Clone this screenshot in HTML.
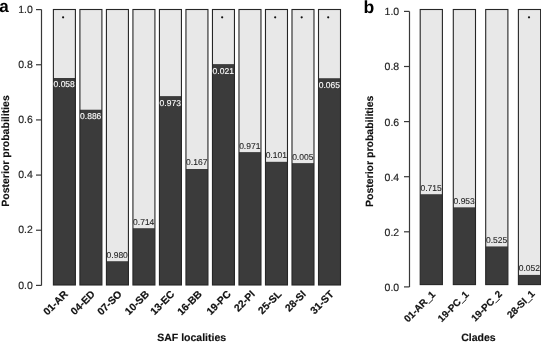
<!DOCTYPE html>
<html><head><meta charset="utf-8"><style>
html,body{margin:0;padding:0;background:#fff;width:541px;height:343px;overflow:hidden}
svg{display:block;will-change:transform}
text{font-family:"Liberation Sans",sans-serif;text-rendering:geometricPrecision}
.v{font-size:8.5px;text-anchor:middle;stroke-width:0.08px}
.t{font-size:10.5px;text-anchor:end;fill:#222;stroke:#222;stroke-width:0.15px}
.xl{font-size:10.3px;font-weight:bold;text-anchor:end;fill:#111;stroke:#111;stroke-width:0.2px}
.ti{font-size:10.5px;font-weight:bold;fill:#111;stroke:#111;stroke-width:0.15px}
.pn{font-size:17px;font-weight:bold;fill:#000}
</style></head><body>
<svg width="541" height="343" viewBox="0 0 541 343">
<rect x="53.4" y="9.5" width="22" height="68.5" fill="#e8e8e8"/>
<rect x="53.4" y="78" width="22" height="207" fill="#3b3b3b"/>
<rect x="53.4" y="9.5" width="22" height="275.5" fill="none" stroke="#262626" stroke-width="1.1"/>
<text x="64.2" y="87.4" class="v" fill="#fff" stroke="#fff" style="stroke-width:0.12px">0.058</text>
<circle cx="63.1" cy="17.3" r="1.1" fill="#111"/>
<text class="xl" transform="translate(68.5,294.8) rotate(-45)">01-AR</text>
<rect x="79.91" y="9.5" width="22" height="100.2" fill="#e8e8e8"/>
<rect x="79.91" y="109.7" width="22" height="175.3" fill="#3b3b3b"/>
<rect x="79.91" y="9.5" width="22" height="275.5" fill="none" stroke="#262626" stroke-width="1.1"/>
<text x="90.71" y="119.1" class="v" fill="#fff" stroke="#fff" style="stroke-width:0.12px">0.886</text>
<text class="xl" transform="translate(95.51,294.8) rotate(-45)">04-ED</text>
<rect x="106.42" y="9.5" width="22" height="251.7" fill="#e8e8e8"/>
<rect x="106.42" y="261.2" width="22" height="23.8" fill="#3b3b3b"/>
<rect x="106.42" y="9.5" width="22" height="275.5" fill="none" stroke="#262626" stroke-width="1.1"/>
<text x="117.22" y="257.6" class="v" fill="#222" stroke="#222">0.980</text>
<text class="xl" transform="translate(122.52,294.8) rotate(-45)">07-SO</text>
<rect x="132.93" y="9.5" width="22" height="218.7" fill="#e8e8e8"/>
<rect x="132.93" y="228.2" width="22" height="56.8" fill="#3b3b3b"/>
<rect x="132.93" y="9.5" width="22" height="275.5" fill="none" stroke="#262626" stroke-width="1.1"/>
<text x="143.73" y="224.6" class="v" fill="#222" stroke="#222">0.714</text>
<text class="xl" transform="translate(149.73,294.8) rotate(-45)">10-SB</text>
<rect x="159.44" y="9.5" width="22" height="86.6" fill="#e8e8e8"/>
<rect x="159.44" y="96.1" width="22" height="188.9" fill="#3b3b3b"/>
<rect x="159.44" y="9.5" width="22" height="275.5" fill="none" stroke="#262626" stroke-width="1.1"/>
<text x="170.24" y="105.5" class="v" fill="#fff" stroke="#fff" style="stroke-width:0.12px">0.973</text>
<text class="xl" transform="translate(175.04,294.8) rotate(-45)">13-EC</text>
<rect x="185.95" y="9.5" width="22" height="159.5" fill="#e8e8e8"/>
<rect x="185.95" y="169" width="22" height="116" fill="#3b3b3b"/>
<rect x="185.95" y="9.5" width="22" height="275.5" fill="none" stroke="#262626" stroke-width="1.1"/>
<text x="196.75" y="165.4" class="v" fill="#222" stroke="#222">0.167</text>
<text class="xl" transform="translate(202.55,294.8) rotate(-45)">16-BB</text>
<rect x="212.46" y="9.5" width="22" height="54.6" fill="#e8e8e8"/>
<rect x="212.46" y="64.1" width="22" height="220.9" fill="#3b3b3b"/>
<rect x="212.46" y="9.5" width="22" height="275.5" fill="none" stroke="#262626" stroke-width="1.1"/>
<text x="223.26" y="73.5" class="v" fill="#fff" stroke="#fff" style="stroke-width:0.12px">0.021</text>
<circle cx="222.16" cy="17.3" r="1.1" fill="#111"/>
<text class="xl" transform="translate(231.46,294.8) rotate(-45)">19-PC</text>
<rect x="238.97" y="9.5" width="22" height="142.6" fill="#e8e8e8"/>
<rect x="238.97" y="152.1" width="22" height="132.9" fill="#3b3b3b"/>
<rect x="238.97" y="9.5" width="22" height="275.5" fill="none" stroke="#262626" stroke-width="1.1"/>
<text x="249.77" y="148.5" class="v" fill="#222" stroke="#222">0.971</text>
<text class="xl" transform="translate(255.57,294.8) rotate(-45)">22-PI</text>
<rect x="265.48" y="9.5" width="22" height="152.3" fill="#e8e8e8"/>
<rect x="265.48" y="161.8" width="22" height="123.2" fill="#3b3b3b"/>
<rect x="265.48" y="9.5" width="22" height="275.5" fill="none" stroke="#262626" stroke-width="1.1"/>
<text x="276.28" y="158.2" class="v" fill="#222" stroke="#222">0.101</text>
<circle cx="275.18" cy="17.3" r="1.1" fill="#111"/>
<text class="xl" transform="translate(282.08,294.8) rotate(-45)">25-SL</text>
<rect x="291.99" y="9.5" width="22" height="153.6" fill="#e8e8e8"/>
<rect x="291.99" y="163.1" width="22" height="121.9" fill="#3b3b3b"/>
<rect x="291.99" y="9.5" width="22" height="275.5" fill="none" stroke="#262626" stroke-width="1.1"/>
<text x="302.79" y="159.5" class="v" fill="#222" stroke="#222">0.005</text>
<circle cx="301.69" cy="17.3" r="1.1" fill="#111"/>
<text class="xl" transform="translate(306.59,294.8) rotate(-45)">28-SI</text>
<rect x="318.5" y="9.5" width="22" height="68.7" fill="#e8e8e8"/>
<rect x="318.5" y="78.2" width="22" height="206.8" fill="#3b3b3b"/>
<rect x="318.5" y="9.5" width="22" height="275.5" fill="none" stroke="#262626" stroke-width="1.1"/>
<text x="329.3" y="87.6" class="v" fill="#fff" stroke="#fff" style="stroke-width:0.12px">0.065</text>
<circle cx="328.2" cy="17.3" r="1.1" fill="#111"/>
<text class="xl" transform="translate(334.4,294.8) rotate(-45)">31-ST</text>
<rect x="420.2" y="9.5" width="22.2" height="184.7" fill="#e8e8e8"/>
<rect x="420.2" y="194.2" width="22.2" height="90.4" fill="#3b3b3b"/>
<rect x="420.2" y="9.5" width="22.2" height="275.1" fill="none" stroke="#262626" stroke-width="1.1"/>
<text x="431.1" y="190.6" class="v" fill="#222" stroke="#222">0.715</text>
<text class="xl" style="font-size:9.85px" transform="translate(435.9,295) rotate(-45)">01-AR_1</text>
<rect x="453.3" y="9.5" width="22.2" height="197.8" fill="#e8e8e8"/>
<rect x="453.3" y="207.3" width="22.2" height="77.3" fill="#3b3b3b"/>
<rect x="453.3" y="9.5" width="22.2" height="275.1" fill="none" stroke="#262626" stroke-width="1.1"/>
<text x="464.2" y="203.7" class="v" fill="#222" stroke="#222">0.953</text>
<text class="xl" style="font-size:9.85px" transform="translate(469.3,295) rotate(-45)">19-PC_1</text>
<rect x="485.7" y="9.5" width="22.2" height="236.9" fill="#e8e8e8"/>
<rect x="485.7" y="246.4" width="22.2" height="38.2" fill="#3b3b3b"/>
<rect x="485.7" y="9.5" width="22.2" height="275.1" fill="none" stroke="#262626" stroke-width="1.1"/>
<text x="496.6" y="242.8" class="v" fill="#222" stroke="#222">0.525</text>
<text class="xl" style="font-size:9.85px" transform="translate(502.7,294.6) rotate(-45)">19-PC_2</text>
<rect x="518.4" y="9.5" width="22.2" height="265.4" fill="#e8e8e8"/>
<rect x="518.4" y="274.9" width="22.2" height="9.7" fill="#3b3b3b"/>
<rect x="518.4" y="9.5" width="22.2" height="275.1" fill="none" stroke="#262626" stroke-width="1.1"/>
<text x="529.3" y="271.3" class="v" fill="#222" stroke="#222">0.052</text>
<circle cx="529" cy="17.3" r="1.1" fill="#111"/>
<text class="xl" style="font-size:9.85px" transform="translate(535.4,294.4) rotate(-45)">28-SI_1</text>
<path d="M41.5 9.6V285.4" stroke="#383838" stroke-width="1.2" fill="none"/>
<path d="M36 285.4H41.5" stroke="#383838" stroke-width="1.2" fill="none"/>
<text x="32.8" y="288.6" class="t">0.0</text>
<path d="M36 230.24H41.5" stroke="#383838" stroke-width="1.2" fill="none"/>
<text x="32.8" y="233.44" class="t">0.2</text>
<path d="M36 175.08H41.5" stroke="#383838" stroke-width="1.2" fill="none"/>
<text x="32.8" y="178.28" class="t">0.4</text>
<path d="M36 119.92H41.5" stroke="#383838" stroke-width="1.2" fill="none"/>
<text x="32.8" y="123.12" class="t">0.6</text>
<path d="M36 64.76H41.5" stroke="#383838" stroke-width="1.2" fill="none"/>
<text x="32.8" y="67.96" class="t">0.8</text>
<path d="M36 9.6H41.5" stroke="#383838" stroke-width="1.2" fill="none"/>
<text x="32.8" y="12.8" class="t">1.0</text>
<path d="M409.5 11.4V286.9" stroke="#383838" stroke-width="1.2" fill="none"/>
<path d="M404 286.9H409.5" stroke="#383838" stroke-width="1.2" fill="none"/>
<text x="399.2" y="290.8" class="t">0.0</text>
<path d="M404 231.8H409.5" stroke="#383838" stroke-width="1.2" fill="none"/>
<text x="399.2" y="235.7" class="t">0.2</text>
<path d="M404 176.7H409.5" stroke="#383838" stroke-width="1.2" fill="none"/>
<text x="399.2" y="180.6" class="t">0.4</text>
<path d="M404 121.6H409.5" stroke="#383838" stroke-width="1.2" fill="none"/>
<text x="399.2" y="125.5" class="t">0.6</text>
<path d="M404 66.5H409.5" stroke="#383838" stroke-width="1.2" fill="none"/>
<text x="399.2" y="70.4" class="t">0.8</text>
<path d="M404 11.4H409.5" stroke="#383838" stroke-width="1.2" fill="none"/>
<text x="399.2" y="15.3" class="t">1.0</text>
<text x="191.7" y="340.5" class="ti" text-anchor="middle">SAF localities</text>
<text x="478.4" y="340.6" class="ti" text-anchor="middle">Clades</text>
<text class="ti" text-anchor="middle" transform="translate(9.2,151) rotate(-90)">Posterior probabilities</text>
<text class="ti" text-anchor="middle" transform="translate(373.3,151.3) rotate(-90)">Posterior probabilities</text>
<text x="-0.8" y="12.4" class="pn">a</text>
<text x="363.4" y="12.6" class="pn" style="font-size:17.6px">b</text>
</svg>
</body></html>
